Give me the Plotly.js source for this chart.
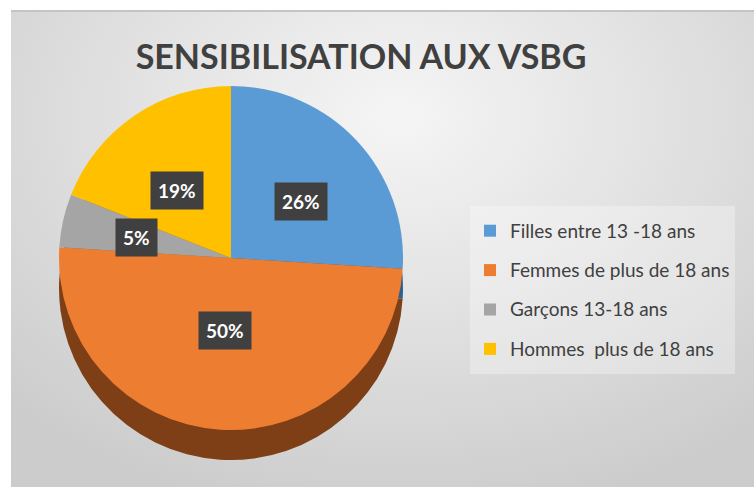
<!DOCTYPE html>
<html>
<head>
<meta charset="utf-8">
<script src="https://cdn.plot.ly/plotly-3.0.1.min.js"></script>
<style>
  html, body { margin:0; padding:0; background:#ffffff; }
  #bg { position:absolute; left:11px; top:10px; width:743px; height:477px;
        border-top:2px solid #c4c4c4; box-sizing:border-box;
        background: radial-gradient(ellipse 75% 85% at 52% 22%, #f5f5f5 0%, #e3e3e3 45%, #cccccc 100%); }
  #chart { position:absolute; left:0; top:0; width:754px; height:487px; }
</style>
</head>
<body>
<div id="bg"></div>
<div id="chart"></div>
<script>
// ---- data ----
const categories = ["Filles entre 13 -18 ans", "Femmes de plus de 18 ans", "Garçons 13-18 ans", "Hommes\u00a0 plus de 18 ans"];
const values = [26, 50, 5, 19];
const sliceColors = ["#5B9BD5", "#ED7D31", "#A5A5A5", "#FFC000"];
const sideColors = ["#2f5f8c", "#7e3f16", "#5f5f5f", "#8f6c00"];
const chartTitle = "SENSIBILISATION AUX VSBG";

// ---- geometry (pixels -> paper, margins are 0) ----
const W = 754, H = 487;
const cx = 231, cy = 258, R = 172, depth = 30;
const px = x => x / W, py = y => 1 - y / H;

const domTop = { x: [px(cx - R), px(cx + R)], y: [py(cy + R), py(cy - R)] };
const domSide = { x: [px(cx - R), px(cx + R)], y: [py(cy + R + depth), py(cy - R + depth)] };

const sideTrace = {
  type: "pie", values: values, labels: categories, sort: false, direction: "clockwise",
  rotation: 0, marker: { colors: sideColors, line: { width: 0 } },
  textinfo: "none", textposition: "none", hoverinfo: "skip", showlegend: false,
  domain: domSide
};
const faceTrace = {
  type: "pie", values: values,
  labels: categories.map(c => "<span style='font-size:19px;baseline-shift:4px'>" + c + "</span>"),
  sort: false, direction: "clockwise", rotation: 0,
  marker: { colors: sliceColors, line: { width: 0 } },
  textinfo: "none", textposition: "none", hoverinfo: "label+percent",
  domain: domTop
};

// percentage labels in dark boxes, placed from slice mid-angles
const total = values.reduce((a, b) => a + b, 0);
let cum = 0;
const annotations = values.map(v => {
  const mid = (cum + v / 2) / total * 2 * Math.PI;
  cum += v;
  const x = cx + R * 0.56 * Math.sin(mid);
  const y = cy - 4 - R * 0.56 * Math.cos(mid) * 0.8;
  return {
    x: px(x), y: py(y), xref: "paper", yref: "paper", showarrow: false,
    text: "<b>" + Math.round(v / total * 100) + "%</b>",
    font: { family: "Lato, 'Open Sans', sans-serif", size: 19, color: "#ffffff" },
    bgcolor: "#404040", borderpad: 7, xanchor: "center", yanchor: "middle"
  };
});

const layout = {
  width: W, height: H,
  margin: { l: 0, r: 0, t: 0, b: 0 },
  paper_bgcolor: "rgba(0,0,0,0)", plot_bgcolor: "rgba(0,0,0,0)",
  title: {
    text: "<b>" + chartTitle + "</b>",
    font: { family: "Lato, 'Open Sans', sans-serif", size: 34, color: "#404040" },
    x: px(361), xanchor: "center", xref: "paper",
    y: py(57), yanchor: "middle", yref: "paper"
  },
  showlegend: true,
  legend: {
    x: px(470), y: py(206), xanchor: "left", yanchor: "top",
    bgcolor: "rgba(255,255,255,0.3)", borderwidth: 0,
    font: { family: "Lato, 'Open Sans', sans-serif", size: 28, color: "#404040" },
    traceorder: "normal"
  },
  annotations: annotations
};

Plotly.newPlot("chart", [sideTrace, faceTrace], layout, { displayModeBar: false, staticPlot: true });
</script>
</body>
</html>
